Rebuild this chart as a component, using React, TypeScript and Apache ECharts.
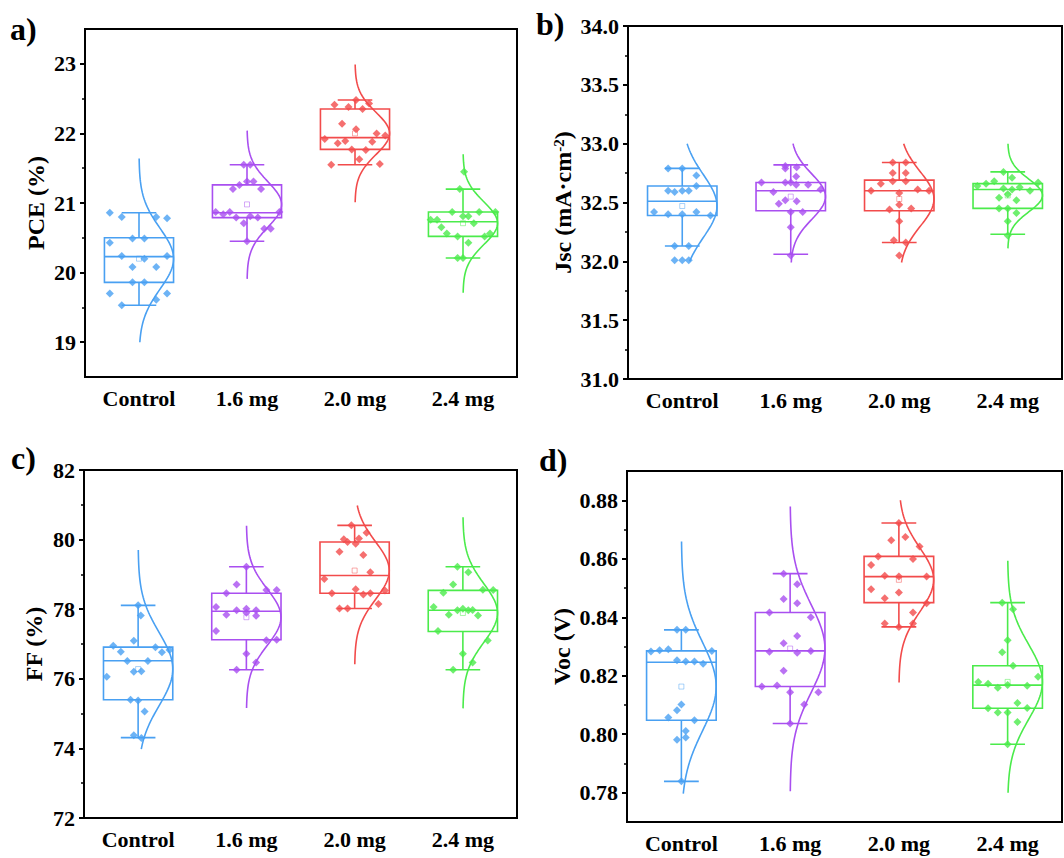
import React, { useEffect, useRef } from 'react';
import * as echarts from 'echarts';

const FONT = 'Liberation Serif';

const categories = ['Control', '1.6 mg', '2.0 mg', '2.4 mg'];
const groupColors = ['#49A0F2', '#A94FF0', '#F24B4B', '#4BEB4B'];

// ---------- a) PCE ----------
const pceValues = [
  [20.86, 20.80, 20.80, 20.78, 20.49, 20.49, 20.43, 20.24, 20.24, 20.20, 20.08, 20.08, 19.86, 19.86, 19.70, 19.70, 19.61, 19.53],
  [21.55, 21.55, 21.31, 21.31, 21.26, 21.20, 21.20, 20.87, 20.84, 20.87, 20.79, 20.81, 20.79, 20.87, 20.71, 20.63, 20.63, 20.45],
  [22.48, 22.43, 22.41, 22.38, 22.35, 22.14, 22.06, 22.00, 21.92, 21.97, 21.89, 21.86, 21.88, 21.77, 21.76, 21.63, 21.55, 21.56],
  [21.45, 21.20, 20.76, 20.76, 20.87, 20.81, 20.81, 20.87, 20.87, 20.65, 20.71, 20.56, 20.52, 20.52, 20.56, 20.43, 20.21, 20.21],
];
const pceJitter = [
  [-0.27, -0.16, 0.16, 0.26, -0.06, 0.05, -0.27, -0.16, 0.26, 0.05, -0.06, 0.16, -0.06, 0.05, -0.27, 0.26, 0.16, -0.16],
  [-0.03, 0.03, 0.0, 0.06, -0.07, -0.13, 0.13, -0.29, -0.22, -0.16, -0.10, 0.03, 0.10, 0.30, -0.03, 0.16, 0.22, 0.0],
  [0.01, 0.13, -0.19, -0.06, 0.07, -0.12, 0.01, 0.20, -0.28, 0.28, -0.09, -0.16, 0.16, -0.03, 0.10, 0.04, -0.22, 0.23],
  [0.01, -0.03, -0.30, -0.24, -0.10, 0.0, 0.05, 0.15, 0.30, -0.20, 0.10, -0.15, -0.05, 0.20, 0.25, 0.05, -0.05, 0.0],
];
// [min, Q1, median, Q3, max, mean]
const pceBox = [
  [19.53, 19.86, 20.23, 20.50, 20.86, 20.20],
  [20.45, 20.79, 20.86, 21.26, 21.55, 20.98],
  [21.55, 21.77, 21.94, 22.35, 22.48, 22.00],
  [20.21, 20.52, 20.73, 20.87, 21.20, 20.71],
];
const pceCurveRange = [[19.0, 21.64], [19.91, 22.04], [21.01, 22.99], [19.71, 21.70]];
const pceTicks = [19, 20, 21, 22, 23];
const pceMinorTicks = [19.5, 20.5, 21.5, 22.5];

// ---------- b) Jsc ----------
const jscValues = [
  [32.79, 32.79, 32.73, 32.64, 32.60, 32.59, 32.60, 32.60, 32.42, 32.40, 32.40, 32.42, 32.39, 32.13, 32.13, 32.01, 32.01, 32.01],
  [32.81, 32.80, 32.79, 32.72, 32.67, 32.67, 32.67, 32.65, 32.65, 32.59, 32.61, 32.52, 32.51, 32.49, 32.42, 32.42, 32.29, 32.05],
  [32.84, 32.84, 32.75, 32.75, 32.66, 32.68, 32.68, 32.60, 32.61, 32.60, 32.58, 32.48, 32.44, 32.45, 32.34, 32.18, 32.16, 32.05],
  [32.64, 32.66, 32.68, 32.76, 32.71, 32.62, 32.61, 32.63, 32.60, 32.67, 32.54, 32.57, 32.52, 32.45, 32.45, 32.41, 32.34, 32.22],
];
const jscJitter = [
  [-0.13, 0, 0.13, 0.13, -0.13, -0.07, 0, 0.06, -0.26, -0.13, 0, 0.13, 0.26, -0.07, 0.06, -0.07, 0, 0.06],
  [-0.05, 0.055, -0.05, 0.05, -0.27, -0.05, 0, 0.05, 0.16, -0.16, 0.275, -0.05, 0.055, -0.11, 0, 0.11, 0, 0],
  [-0.06, 0.06, -0.06, 0.06, -0.17, -0.06, 0.06, -0.26, 0.17, 0.275, 0, 0, -0.09, 0.11, 0, -0.05, 0.06, 0],
  [-0.28, -0.20, -0.125, -0.04, 0.04, -0.04, 0.04, 0.11, 0.205, 0.28, -0.08, 0, 0.08, -0.08, 0, 0.08, 0, 0],
];
const jscBox = [
  [32.13, 32.39, 32.51, 32.64, 32.79, 32.47],
  [32.06, 32.43, 32.60, 32.67, 32.82, 32.55],
  [32.16, 32.43, 32.60, 32.69, 32.84, 32.53],
  [32.23, 32.45, 32.61, 32.66, 32.76, 32.56],
];
const jscCurveRange = [[32.0, 33.0], [31.99, 33.0], [31.99, 33.0], [32.11, 33.0]];
const jscTicks = [31.0, 31.5, 32.0, 32.5, 33.0, 33.5, 34.0];
const jscMinorTicks = [31.25, 31.75, 32.25, 32.75, 33.25, 33.75];

// ---------- c) FF ----------
const ffValues = [
  [78.11, 77.82, 77.09, 76.95, 76.91, 76.78, 76.76, 76.83, 76.51, 76.51, 76.20, 76.22, 76.06, 75.40, 75.38, 75.06, 74.38, 74.30],
  [79.22, 78.71, 78.55, 78.55, 78.46, 78.06, 77.97, 78.01, 77.97, 77.84, 77.90, 77.81, 77.37, 77.11, 77.12, 76.72, 76.47, 76.26],
  [80.41, 80.20, 80.01, 79.93, 80.03, 79.88, 79.65, 79.56, 79.06, 78.87, 78.57, 78.46, 78.42, 78.46, 78.54, 78.15, 78.02, 78.02],
  [79.22, 79.06, 78.71, 78.56, 78.55, 78.47, 78.06, 77.97, 78.01, 77.97, 77.98, 77.84, 77.82, 77.37, 77.10, 76.72, 76.47, 76.26],
];
const ffJitter = [
  [0, 0.025, -0.04, -0.23, 0.16, -0.16, 0.22, 0.29, -0.10, 0.09, -0.04, 0.03, -0.29, -0.07, 0, 0.06, -0.04, 0.03],
  [0, -0.09, 0.185, 0.28, -0.185, -0.28, -0.09, 0, 0.09, -0.185, 0, 0.09, -0.28, 0.185, 0.28, 0, 0.09, -0.09],
  [-0.03, 0.11, -0.10, -0.065, 0.04, 0.01, -0.14, 0.08, 0.145, -0.28, 0.01, -0.21, 0.08, 0.145, 0.28, 0.22, -0.14, -0.065],
  [-0.05, 0.05, -0.09, 0.185, 0.28, -0.18, -0.27, -0.05, 0, 0.05, 0.09, -0.13, 0.14, -0.23, 0.23, 0, 0.09, -0.09],
];
const ffBox = [
  [74.31, 75.40, 76.52, 76.91, 78.11, 76.28],
  [76.26, 77.12, 77.94, 78.46, 79.22, 77.77],
  [78.02, 78.46, 78.97, 79.93, 80.41, 79.11],
  [76.26, 77.36, 77.97, 78.54, 79.22, 77.89],
];
const ffCurveRange = [[73.98, 79.70], [75.16, 80.40], [76.42, 80.98], [75.15, 80.64]];
const ffTicks = [72, 74, 76, 78, 80, 82];
const ffMinorTicks = [73, 75, 77, 79, 81];

// ---------- d) Voc ----------
const vocValues = [
  [0.8357, 0.8357, 0.8283, 0.8287, 0.8291, 0.8285, 0.8253, 0.8249, 0.8249, 0.8241, 0.8102, 0.8082, 0.8057, 0.8048, 0.8011, 0.7989, 0.7981, 0.7839],
  [0.8549, 0.8513, 0.8462, 0.8448, 0.8416, 0.8400, 0.8336, 0.8311, 0.8282, 0.8279, 0.8285, 0.8217, 0.8163, 0.8167, 0.8144, 0.8144, 0.8102, 0.8037],
  [0.8722, 0.8674, 0.8663, 0.8642, 0.8608, 0.8599, 0.8579, 0.8542, 0.8539, 0.8539, 0.8496, 0.8485, 0.8465, 0.8448, 0.8416, 0.8379, 0.8379, 0.8367],
  [0.8450, 0.8427, 0.8321, 0.8280, 0.8234, 0.8197, 0.8179, 0.8173, 0.8159, 0.8168, 0.8166, 0.8089, 0.8107, 0.8090, 0.8074, 0.8074, 0.8042, 0.7966],
];
const vocJitter = [
  [-0.04, 0.04, -0.28, -0.2, -0.12, 0.28, -0.04, 0.04, 0.12, 0.2, 0, -0.04, -0.12, 0.12, 0.04, 0.04, -0.04, 0],
  [-0.06, 0.065, -0.06, 0.065, -0.19, 0.19, 0.065, -0.06, -0.19, 0.065, 0.19, -0.06, -0.26, -0.12, 0, 0.26, 0.13, 0],
  [0, 0.06, -0.07, 0.19, -0.19, 0.13, -0.255, -0.13, 0, 0.255, -0.255, 0, -0.13, 0.255, 0.13, -0.13, 0.13, 0],
  [-0.05, 0.05, 0, -0.05, 0.05, 0.28, -0.27, -0.18, -0.09, 0, 0.18, -0.18, 0.09, 0.18, -0.09, 0, 0.09, 0],
];
const vocBox = [
  [0.7839, 0.8048, 0.8246, 0.8285, 0.8357, 0.8163],
  [0.8037, 0.8163, 0.8285, 0.8416, 0.8549, 0.8293],
  [0.8367, 0.8450, 0.8539, 0.8608, 0.8722, 0.8528],
  [0.7966, 0.8089, 0.8168, 0.8234, 0.8450, 0.8179],
];
const vocCurveRange = [[0.7797, 0.8659], [0.7805, 0.8779], [0.8177, 0.88], [0.78, 0.8593]];
const vocTicks = [0.78, 0.80, 0.82, 0.84, 0.86, 0.88];
const vocMinorTicks = [0.79, 0.81, 0.83, 0.85, 0.87];

// ---------- layout ----------
const BOX_HALF = 0.32;
const CAP_HALF = 0.16;

function stdev(arr: number[]) {
  const m = arr.reduce((a, b) => a + b, 0) / arr.length;
  return Math.sqrt(arr.reduce((a, b) => a + (b - m) * (b - m), 0) / (arr.length - 1));
}

type Panel = {
  values: number[][];
  jitter: number[][];
  box: number[][];
  curve: number[][];
  ticks: number[];
  minor: number[];
  min: number;
  max: number;
  digits: number;
  name: string;
  rich?: boolean;
  nameGap: number;
  grid: { left: number; top: number; width: number; height: number };
};

const panels: Panel[] = [
  { values: pceValues, jitter: pceJitter, box: pceBox, curve: pceCurveRange, ticks: pceTicks, minor: pceMinorTicks,
    min: 18.5, max: 23.5, digits: 0, name: 'PCE (%)', nameGap: 37, grid: { left: 85, top: 29, width: 432, height: 348 } },
  { values: jscValues, jitter: jscJitter, box: jscBox, curve: jscCurveRange, ticks: jscTicks, minor: jscMinorTicks,
    min: 31, max: 34, digits: 1, name: '{a|Jsc (mA·cm}{s|-2}{a|)}', rich: true, nameGap: 53, grid: { left: 628, top: 26, width: 434, height: 353 } },
  { values: ffValues, jitter: ffJitter, box: ffBox, curve: ffCurveRange, ticks: ffTicks, minor: ffMinorTicks,
    min: 72, max: 82, digits: 0, name: 'FF (%)', nameGap: 38, grid: { left: 84, top: 470, width: 433, height: 348 } },
  { values: vocValues, jitter: vocJitter, box: vocBox, curve: vocCurveRange, ticks: vocTicks, minor: vocMinorTicks,
    min: 0.77, max: 0.89, digits: 2, name: 'Voc (V)', nameGap: 53, grid: { left: 627, top: 471, width: 435, height: 351 } },
];

const labelStyle = { fontFamily: FONT, fontWeight: 'bold' as const, fontSize: 22, color: '#000' };
const nameStyle = { fontFamily: FONT, fontWeight: 'bold' as const, fontSize: 24, color: '#000' };

function buildOption() {
  const grid: any[] = [];
  const xAxis: any[] = [];
  const yAxis: any[] = [];
  const series: any[] = [];

  panels.forEach((p, i) => {
    grid.push({ ...p.grid, show: true, borderColor: '#000', borderWidth: 2, backgroundColor: 'transparent' });
    xAxis.push({
      type: 'category', gridIndex: i, data: categories, boundaryGap: true,
      axisLine: { onZero: false, lineStyle: { color: '#000', width: 2 } },
      axisTick: { alignWithLabel: true, length: 5, lineStyle: { color: '#000', width: 2 } },
      axisLabel: { ...labelStyle, interval: 0, margin: 10, formatter: (v: string) => `{t|${v}}`, rich: { t: { ...labelStyle } } },
      splitLine: { show: false },
    });
    xAxis.push({ type: 'value', gridIndex: i, min: -0.5, max: 3.5, show: false });
    yAxis.push({
      type: 'value', gridIndex: i, min: p.min, max: p.max, position: 'left',
      axisLine: { show: true, onZero: false, lineStyle: { color: '#000', width: 2 } },
      axisTick: { show: true, length: 5, lineStyle: { color: '#000', width: 2 }, customValues: p.ticks },
      axisLabel: {
        ...labelStyle, margin: 9, customValues: p.ticks,
        formatter: (v: number) => `{t|${v.toFixed(p.digits)}}`, rich: { t: { ...labelStyle } },
      },
      splitLine: { show: false },
      name: p.name, nameLocation: 'middle', nameGap: p.nameGap,
      nameTextStyle: p.rich
        ? { ...nameStyle, rich: { a: { ...nameStyle }, s: { ...nameStyle, fontSize: 15, verticalAlign: 'top' } } }
        : { ...nameStyle },
    });
    yAxis.push({
      type: 'value', gridIndex: i, min: p.min, max: p.max, position: 'left',
      axisLine: { show: false, onZero: false },
      axisTick: { show: true, length: 3, lineStyle: { color: '#000', width: 1.5 }, customValues: p.minor },
      axisLabel: { show: false },
      splitLine: { show: false },
    });

    const xi = 2 * i + 1;
    const yi = 2 * i;

    // boxes
    series.push({
      type: 'custom', xAxisIndex: xi, yAxisIndex: yi, z: 2,
      data: p.box.map((b, g) => [g, ...b]),
      encode: { x: 0, y: [1, 2, 3, 4, 5] },
      renderItem: (params: any, api: any) => {
        const g = api.value(0);
        const c = groupColors[params.dataIndex];
        const med = api.value(3);
        const cx = api.coord([g, med])[0];
        const hw = api.coord([g + BOX_HALF, med])[0] - cx;
        const cw = api.coord([g + CAP_HALF, med])[0] - cx;
        const y = (k: number) => api.coord([g, api.value(k)])[1];
        const yMin = y(1), yQ1 = y(2), yMed = y(3), yQ3 = y(4), yMax = y(5), yMean = y(6);
        const st = { stroke: c, lineWidth: 1.6, fill: 'transparent' };
        return {
          type: 'group',
          children: [
            { type: 'rect', shape: { x: cx - hw, y: yQ3, width: 2 * hw, height: yQ1 - yQ3 }, style: st },
            { type: 'line', shape: { x1: cx - hw, y1: yMed, x2: cx + hw, y2: yMed }, style: st },
            { type: 'line', shape: { x1: cx, y1: yQ3, x2: cx, y2: yMax }, style: st },
            { type: 'line', shape: { x1: cx, y1: yQ1, x2: cx, y2: yMin }, style: st },
            { type: 'line', shape: { x1: cx - cw, y1: yMax, x2: cx + cw, y2: yMax }, style: st },
            { type: 'line', shape: { x1: cx - cw, y1: yMin, x2: cx + cw, y2: yMin }, style: st },
            { type: 'rect', shape: { x: cx - 2.5, y: yMean - 2.5, width: 5, height: 5 },
              style: { stroke: c, lineWidth: 0.8, fill: 'transparent', opacity: 0.6 } },
          ],
        };
      },
    });

    // normal curves and points
    p.values.forEach((vals, g) => {
      const mean = p.box[g][5];
      const s = stdev(vals);
      const [lo, hi] = p.curve[g];
      const N = 80;
      const curve: number[][] = [];
      for (let k = 0; k <= N; k++) {
        const yv = lo + ((hi - lo) * k) / N;
        const z = (yv - mean) / s;
        curve.push([g + BOX_HALF * Math.exp(-0.5 * z * z), yv]);
      }
      series.push({
        type: 'line', xAxisIndex: xi, yAxisIndex: yi, data: curve, showSymbol: false, symbol: 'none',
        lineStyle: { color: groupColors[g], width: 1.6 }, z: 3, silent: true,
      });
      series.push({
        type: 'scatter', xAxisIndex: xi, yAxisIndex: yi, symbol: 'diamond', symbolSize: 8,
        itemStyle: { color: groupColors[g] }, z: 4,
        data: vals.map((v, k) => [g + p.jitter[g][k], v]),
      });
    });
  });

  const panelLabel = (text: string, left: number, top: number) => ({
    type: 'text', left, top, style: { text, font: `bold 32px ${FONT}`, fill: '#000' },
  });

  return {
    animation: false,
    backgroundColor: '#fff',
    textStyle: { fontFamily: FONT, fontWeight: 'bold' },
    grid, xAxis, yAxis, series,
    graphic: [
      panelLabel('a)', 10, 13),
      panelLabel('b)', 536, 8),
      panelLabel('c)', 11, 442),
      panelLabel('d)', 539, 444),
    ],
  };
}

export default function App() {
  const ref = useRef<HTMLDivElement>(null);
  useEffect(() => {
    if (!ref.current) return;
    const chart = echarts.init(ref.current, null, { renderer: 'svg' });
    chart.setOption(buildOption() as any);
    return () => chart.dispose();
  }, []);
  return (
    <div
      ref={ref}
      style={{ position: 'fixed', left: 0, top: 0, width: 1064, height: 858, background: '#fff' }}
    />
  );
}
